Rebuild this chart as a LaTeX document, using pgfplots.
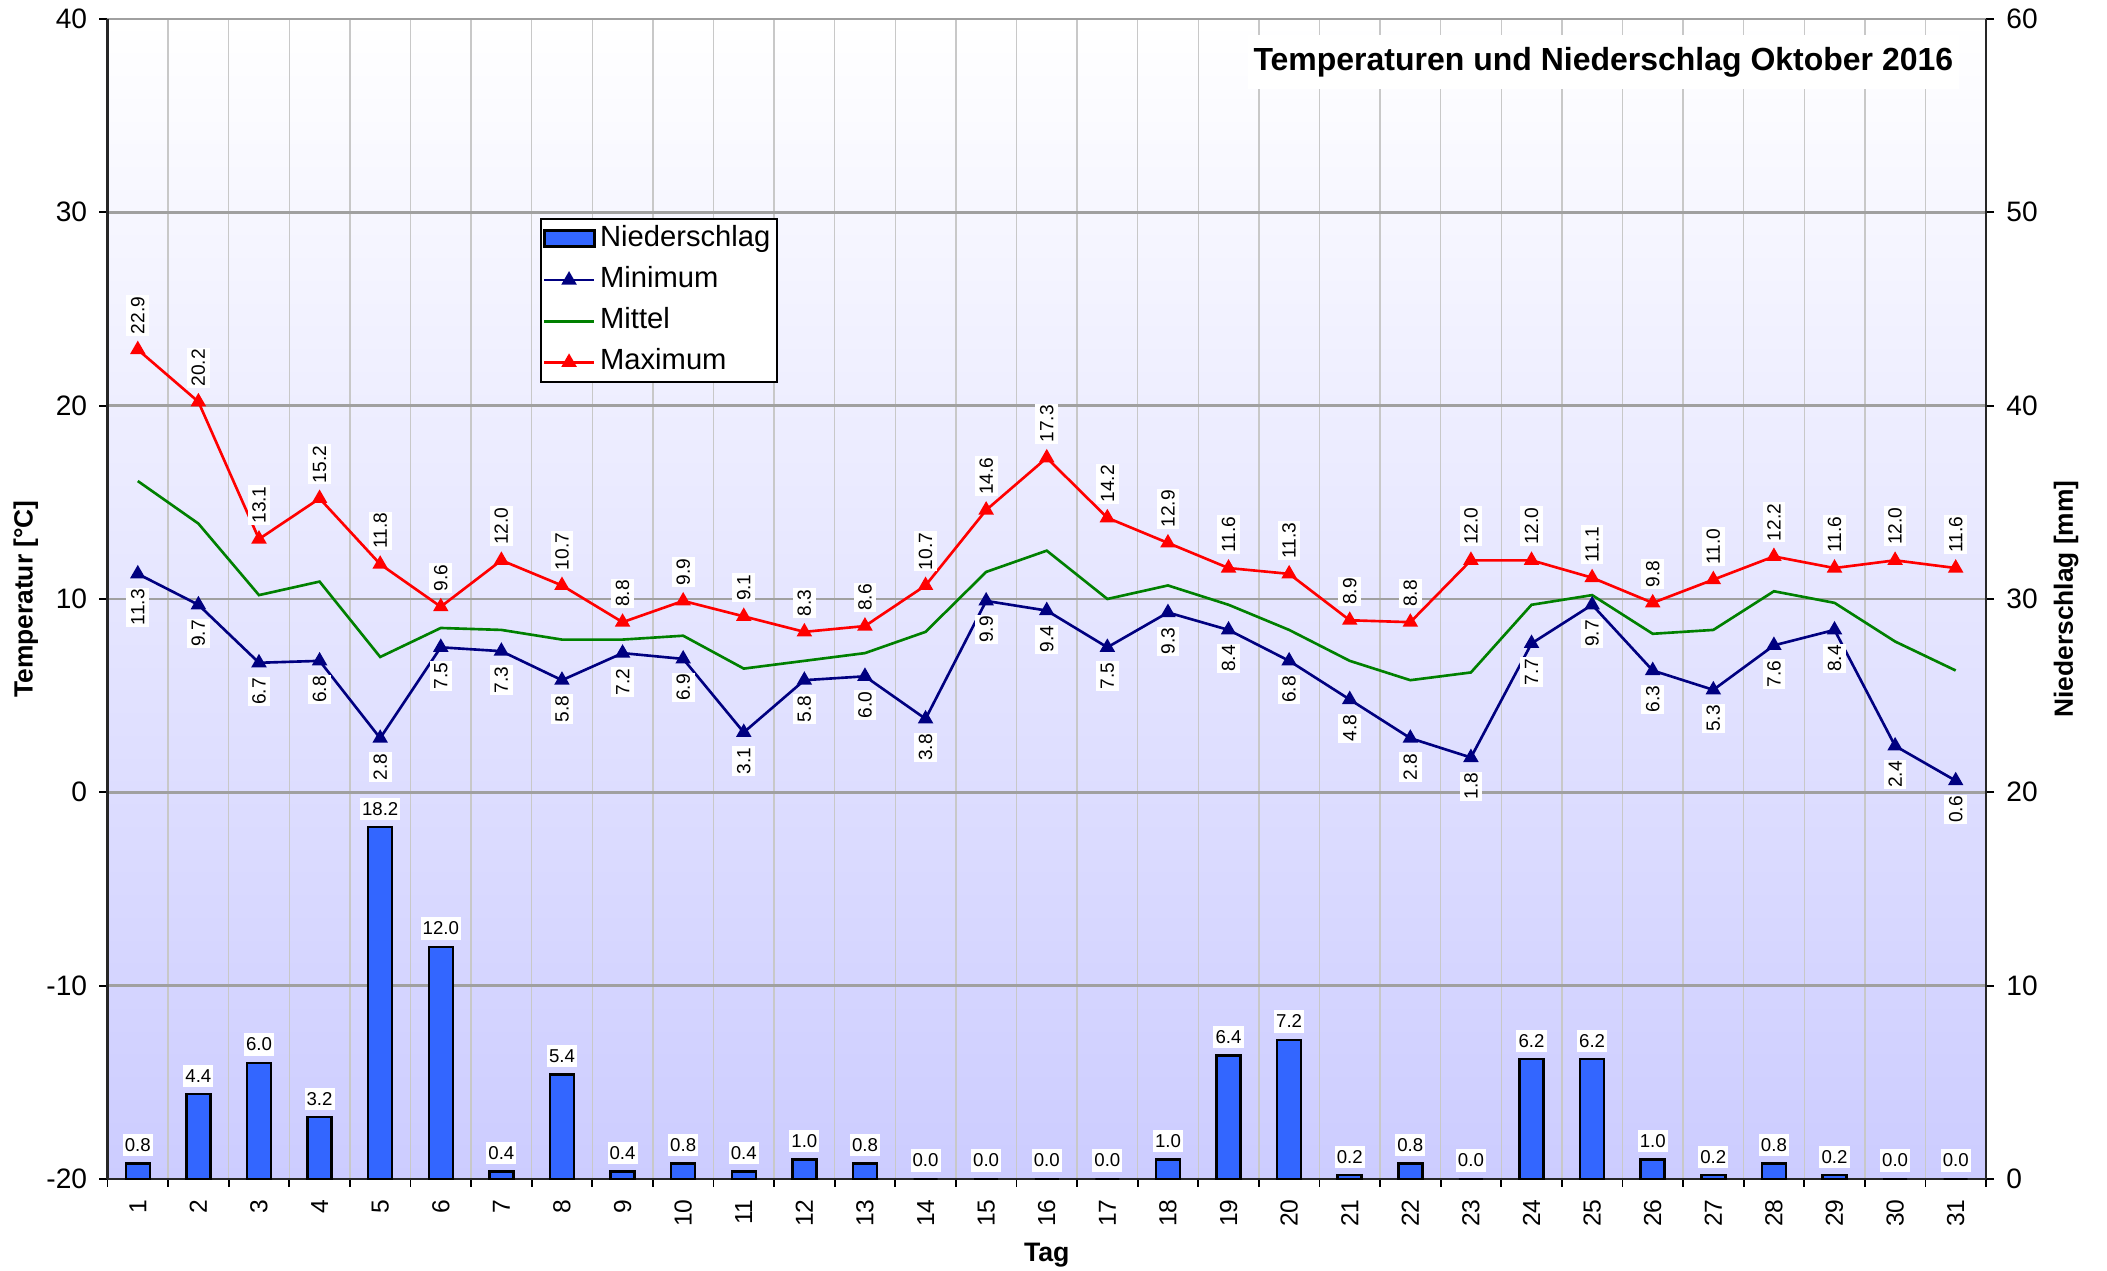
\documentclass[border=0pt]{standalone}
\usepackage{pgfplots}
\pgfplotsset{compat=1.18}
\usepackage{pgfplotstable}
\usepackage{fontspec}
\setmainfont{Liberation Sans}
\definecolor{barblue}{RGB}{51,102,255}
\definecolor{minblue}{RGB}{0,0,128}
\definecolor{midgreen}{RGB}{0,128,0}
\definecolor{bgbottom}{RGB}{204,204,255}
\definecolor{gridv}{RGB}{200,200,200}
\definecolor{gridh}{RGB}{160,160,160}

\pgfplotstableread{
day tmin tmid tmax rain
1 11.3 16.1 22.9 0.8
2 9.7 13.9 20.2 4.4
3 6.7 10.2 13.1 6.0
4 6.8 10.9 15.2 3.2
5 2.8 7.0 11.8 18.2
6 7.5 8.5 9.6 12.0
7 7.3 8.4 12.0 0.4
8 5.8 7.9 10.7 5.4
9 7.2 7.9 8.8 0.4
10 6.9 8.1 9.9 0.8
11 3.1 6.4 9.1 0.4
12 5.8 6.8 8.3 1.0
13 6.0 7.2 8.6 0.8
14 3.8 8.3 10.7 0.0
15 9.9 11.4 14.6 0.0
16 9.4 12.5 17.3 0.0
17 7.5 10.0 14.2 0.0
18 9.3 10.7 12.9 1.0
19 8.4 9.7 11.6 6.4
20 6.8 8.4 11.3 7.2
21 4.8 6.8 8.9 0.2
22 2.8 5.8 8.8 0.8
23 1.8 6.2 12.0 0.0
24 7.7 9.7 12.0 6.2
25 9.7 10.2 11.1 6.2
26 6.3 8.2 9.8 1.0
27 5.3 8.4 11.0 0.2
28 7.6 10.4 12.2 0.8
29 8.4 9.8 11.6 0.2
30 2.4 7.8 12.0 0.0
31 0.6 6.3 11.6 0.0
}\data

\begin{document}
\begin{tikzpicture}
% precipitation axis (right), background and grid
\begin{axis}[
  name=ax,
  scale only axis, width=18.785cm, height=11.6cm,
  xmin=0.5, xmax=31.5, ymin=0, ymax=60,
  axis x line*=bottom, axis y line*=right,
  axis line style={-, line width=0.6pt, black!85},
  axis background/.style={top color=white, bottom color=bgbottom},
  xtick={1,...,31}, minor xtick={0.5,1.5,...,31.5},
  xminorgrids, ymajorgrids, xmajorgrids=false,
  minor x grid style={gridv, line width=0.4pt},
  major y grid style={gridh, line width=0.7pt},
  ytick={0,10,...,60},
  tick align=outside, major tick length=0.08cm, minor tick length=0.08cm,
  major x tick style={draw=none},
  tick style={black, line width=0.5pt},
  /pgf/number format/assume math mode=true,
  xticklabel style={rotate=90, anchor=east, font=\fontsize{7.0}{8}\selectfont},
  yticklabel style={font=\fontsize{8}{9}\selectfont},
  xlabel={\bfseries Tag},
  every axis x label/.style={at={(axis description cs:0.5,-0.0655)}, anchor=center, inner sep=0pt, font=\fontsize{7.6}{9}\selectfont},
  ylabel={\bfseries Niederschlag [mm]},
  every axis y label/.style={at={(axis description cs:1.0426,0.5)}, rotate=90, anchor=center, inner sep=0pt, font=\fontsize{7.5}{9}\selectfont},
  clip=false,
]
\addplot[ybar, bar width=0.24cm, fill=barblue, draw=black, line width=0.025cm,
  nodes near coords={\pgfmathprintnumber[fixed,fixed zerofill,precision=1]{\pgfplotspointmeta}},
  every node near coord/.append style={anchor=south, text=black, fill=white, draw=none, inner xsep=0.6pt, inner ysep=1.3pt, yshift=0.06cm, font=\fontsize{5.3}{6}\selectfont}
] table[x=day, y=rain] {\data};
\end{axis}

% temperature axis (left)
\begin{axis}[
  scale only axis, width=18.785cm, height=11.6cm,
  xmin=0.5, xmax=31.5, ymin=-20, ymax=40,
  axis y line*=left, axis x line=none,
  axis line style={-, line width=0.6pt, black!85},
  ytick={-20,-10,...,40},
  tick align=outside, major tick length=0.08cm,
  tick style={black, line width=0.5pt},
  /pgf/number format/assume math mode=true,
  yticklabel style={font=\fontsize{8}{9}\selectfont},
  ylabel={\bfseries Temperatur [°C]},
  every axis y label/.style={at={(axis description cs:-0.0435,0.5)}, rotate=90, anchor=center, inner sep=0pt, font=\fontsize{7.5}{9}\selectfont},
  clip=false,
  legend style={at={(0.2302,0.8284)}, anchor=north west, draw=black, fill=white,
    line width=0.5pt, inner sep=0.5pt,
    font=\fontsize{8.3}{9.8}\selectfont, row sep=1.3pt,
    nodes={inner sep=1.3pt, text height=6pt, text depth=1.8pt},
    cells={anchor=west}},
  legend image code/.code={\draw[mark repeat=2,mark phase=2,#1] plot coordinates {(0cm,0cm) (0.25cm,0cm) (0.5cm,0cm)};},
  nodes near coords={\pgfmathprintnumber[fixed,fixed zerofill,precision=1]{\pgfplotspointmeta}},
]
\addlegendimage{legend image code/.code={\draw[fill=barblue, draw=black, line width=0.03cm] (0cm,-0.08cm) rectangle (0.5cm,0.08cm);}}
\addlegendentry{Niederschlag}
\addlegendimage{minblue, line width=0.75pt, mark=triangle*, mark size=1.8pt, mark options={solid}}
\addlegendentry{Minimum}
\addlegendimage{midgreen, line width=0.75pt, no marks}
\addlegendentry{Mittel}
\addlegendimage{red, line width=0.75pt, mark=triangle*, mark size=1.8pt, mark options={solid}}
\addlegendentry{Maximum}
\addplot[forget plot, midgreen, line width=0.75pt, nodes near coords=\relax, no marks] table[x=day, y=tmid] {\data};
\addplot[forget plot, minblue, line width=0.75pt, mark=triangle*, mark size=1.8pt, mark options={solid},
  every node near coord/.append style={rotate=90, anchor=east, text=black, fill=white, draw=none, inner xsep=0.4pt, inner ysep=1.3pt, outer xsep=0.14cm, font=\fontsize{5.45}{6}\selectfont}
] table[x=day, y=tmin] {\data};
\addplot[forget plot, red, line width=0.75pt, mark=triangle*, mark size=1.8pt, mark options={solid},
  every node near coord/.append style={rotate=90, anchor=west, text=black, fill=white, draw=none, inner xsep=0.4pt, inner ysep=1.3pt, outer xsep=0.14cm, font=\fontsize{5.45}{6}\selectfont}
] table[x=day, y=tmax] {\data};
\node[anchor=east, fill=white, inner xsep=0.06cm, inner ysep=0.12cm, font=\bfseries\fontsize{9.1}{10}\selectfont] at (rel axis cs:0.9861,0.963) {Temperaturen und Niederschlag Oktober 2016};
\end{axis}
\pgfresetboundingbox
\path[use as bounding box] ([xshift=-1.075cm,yshift=-0.92cm]ax.south west) rectangle ([xshift=1.21cm,yshift=0.19cm]ax.north east);
\end{tikzpicture}
\end{document}
